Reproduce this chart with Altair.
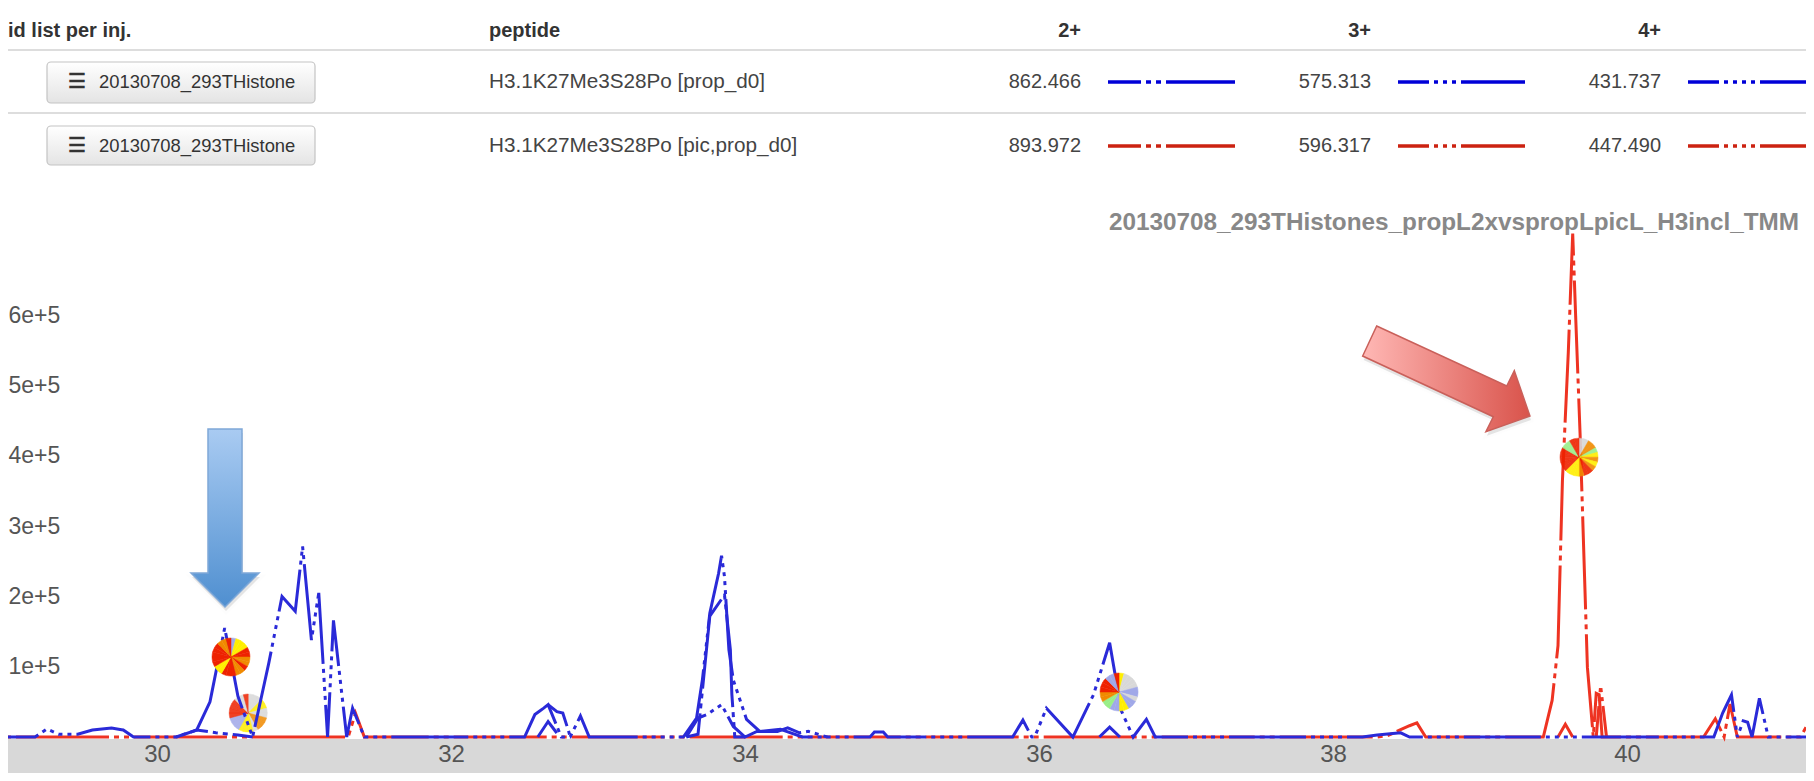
import altair as alt
import pandas as pd

# ---------- table content ----------
headers = ["id list per inj.", "peptide", "2+", "3+", "4+"]
run_names = ["20130708_293THistone", "20130708_293THistone"]
peptides = ["H3.1K27Me3S28Po [prop_d0]", "H3.1K27Me3S28Po [pic,prop_d0]"]
mz_light = ["862.466", "575.313", "431.737"]
mz_heavy = ["893.972", "596.317", "447.490"]
title_text = "20130708_293THistones_propL2xvspropLpicL_H3incl_TMM"

# ---------- traces: retention time / intensity, None breaks a trace ----------
blue_a_t = [28.986, 29.17, 29.25, 29.33, 29.46, 29.56, 29.69, 29.77, 29.84, 30.13, 30.27, 30.36, 30.46, 30.52, 30.55, 30.65,
            30.76, 30.85, 30.94, 30.99, 31.05, 31.1, 31.16, 31.2, 31.29, 31.33, 31.41, 32.5, 32.57, 32.63, 32.66, 32.75,
            32.81, 32.88, 32.94, 33.58, 33.67, 33.71, 33.74, 33.76, 33.82, 33.84, 33.86, 33.89, 33.92, 34.01, 34.1, 34.24,
            34.39, 34.85, 34.88, 34.94, 34.97, 35.82, 35.89, 35.95, 35.97, 36.05, 36.23, 36.37, 36.48, 36.56, 36.64, 36.73,
            36.79, 38.2, 38.3, 38.46, 38.52, 40.59, 40.65, 40.71, 40.75, 40.79, 40.82, 40.85, 40.9, 40.96, 41.217]
blue_a_i = [0, 0, 11400, 4000, 4000, 10000, 12800, 10000, 0, 0, 10000, 50000, 155000, 91000, 58000, 0,
            105000, 200000, 179000, 271000, 138000, 205000, 0, 166000, 0, 41000, 0, 0, 32000, 41000, 46000, 0,
            0, 30000, 0, 0, 27000, 82000, 138000, 176000, 233000, 258000, 228000, 124000, 81000, 25000, 8000, 11000,
            0, 0, 7000, 7000, 0, 0, 24000, 0, 0, 41000, 0, 60000, 134000, 37000, 0, 25000,
            0, 0, 3000, 6000, 0, 0, 34000, 60000, 0, 23000, 21000, 0, 55000, 0, 0]

blue_b_t = [30.13, 30.27, 30.4, 30.55, 30.65, 30.7, 32.59, 32.66, 32.74, 32.8, 33.6, 33.68, 33.76, 33.86, 33.9, 33.91, 33.93, 34.0,
            34.1, 36.41, 36.48, 36.55, 36.6]
blue_b_i = [0, 10000, 6000, 3000, 0, None, 0, 22000, 0, None, 0, 4000, 172000, 202000, 124000, 61000, 0, 0,
            None, 0, 14000, 0, None]

blue_c_t = [32.66, 32.72, 32.76, 32.8, 32.81, 32.9, 33.6, 33.68, 33.74, 33.84, 33.92, 34.0, 34.08, 34.22, 34.29, 34.37, 34.43, 34.56]
blue_c_i = [46000, 36000, 34000, 8000, 0, None, 0, 27000, 32000, 46000, 15000, 0, 8000, 8000, 13000, 6000, 8000, 0]

red_a_t = [28.986, 31.3, 31.35, 31.41, 38.3, 38.37, 38.52, 38.57, 38.63, 39.43, 39.49, 39.53, 39.56, 39.6, 39.63, 39.65, 39.68,
           39.73, 39.77, 39.79, 39.81, 39.83, 40.52, 40.6, 40.66, 40.7, 40.75, 41.18, 41.217]
red_a_i = [0, 0, 34000, 0, 0, 2000, 16000, 20000, 0, 0, 52000, 130000, 364000, 547000, 716000, 599000, 432000,
           99000, 0, 62000, 60000, 0, 0, 26000, 0, 47000, 0, 0, 14000]
red_b_t = [39.53, 39.58, 39.63]
red_b_i = [0, 18000, 0]
red_c_t = [39.79, 39.82, 39.86]
red_c_i = [0, 73000, 0]

# ---------- pies: one colour per equal slice, clockwise from the top ----------
R, O, Y, L, G, N = "#ee2200", "#f08a00", "#ffee00", "#a0a8e8", "#d8d8d8", "#99ee88"
pie_a_colors = [L, Y, Y, Y, R, R, O, O, R, O, O, R, R, R, Y, Y, R, R, R, R, R, O, O, R]
pie_b_colors = [G, G, G, Y, Y, G, G, O, O, O, G, Y, Y, Y, L, L, L, R, R, R, R, G, G, R]
pie_c_colors = [Y, G, G, G, G, L, L, G, L, L, Y, Y, L, L, N, N, O, O, R, R, R, L, L, R]
pie_d_colors = [G, G, O, O, N, Y, O, Y, O, R, R, O, Y, Y, Y, R, R, R, R, R, N, N, R, R]
pie_centers_t = [30.503, 30.62, 36.544, 39.673]
pie_centers_i = [113800, 34100, 64000, 398000]

y_ticks = [100000, 200000, 300000, 400000, 500000, 600000]
x_ticks = [30, 32, 34, 36, 38, 40]

# ---------- styles ----------
W, H = 1798, 765
Y_BOTTOM = -51209
x_scale = alt.Scale(domain=[28.986, 41.217], nice=False, zero=False)
y_scale = alt.Scale(domain=[Y_BOTTOM, 1036984], nice=False, zero=False)
FONT = "Liberation Sans"
BLUE, RED = "#2a2ad8", "#ee3322"
LEG_BLUE, LEG_RED = "#0000d8", "#cc2211"
DASH = {
    2: [33, 5, 5, 5, 5, 5, 60, 0],
    3: [31, 5, 4, 5, 4, 5, 4, 5, 55, 0],
    4: [31, 5, 4, 5, 4, 5, 4, 5, 4, 5, 46, 0],
}
one = alt.Data(values=[{"a": 1}])

x_axis = alt.Axis(
    values=x_ticks, format="d", orient="bottom", domain=False, ticks=False, grid=False, title=None,
    labelFont=FONT, labelFontSize=24, labelColor="#555555", labelPadding=-31, labelBaseline="top",
    labelAlign="center", zindex=1)
y_axis = alt.Axis(
    values=y_ticks, format=".0e", orient="left", domain=False, ticks=False, grid=False, title=None,
    labelAlign="left", labelPadding=0, labelFont=FONT, labelFontSize=23, labelColor="#555555", zindex=1,
    labelBaseline="middle")


def label(text, px, py, size=20, color="#333333", bold=False, align="left"):
    return alt.Chart(one).mark_text(
        text=text, font=FONT, fontSize=size, color=color, align=align, baseline="middle",
        fontWeight="bold" if bold else "normal",
    ).encode(x=alt.value(px - 8), y=alt.value(py - 8))


def hline(x0, x1, py, color, width, dash=None):
    kw = {"strokeDash": dash} if dash else {}
    return alt.Chart(one).mark_rule(color=color, strokeWidth=width, **kw).encode(
        x=alt.value(x0 - 8), x2=alt.value(x1 - 8), y=alt.value(py - 8))


def trace(ts, vs, color, dash, width=3, offset=0):
    df = pd.DataFrame({"t": ts, "i": vs})
    return alt.Chart(df).mark_line(
        color=color, strokeWidth=width, strokeDash=dash, strokeDashOffset=offset, clip=True,
        interpolate="linear",
    ).encode(
        x=alt.X("t:Q", scale=x_scale, axis=x_axis),
        y=alt.Y("i:Q", scale=y_scale, axis=y_axis),
    )


def pie(colors, t, i, opacity=1.0):
    df = pd.DataFrame({"c": colors, "s": list(range(len(colors))), "e": list(range(1, len(colors) + 1)),
                       "t": [t] * len(colors), "i": [i] * len(colors)})
    return alt.Chart(df).mark_arc(outerRadius=19, opacity=opacity, strokeWidth=0.5).encode(
        x=alt.X("t:Q", scale=x_scale, axis=x_axis),
        y=alt.Y("i:Q", scale=y_scale, axis=y_axis),
        theta=alt.Theta("s:Q", scale=alt.Scale(domain=[0, len(colors)])),
        theta2="e:Q",
        color=alt.Color("c:N", scale=None),
        stroke=alt.Stroke("c:N", scale=None),
    )


def arrow(path, px, py, span, fill, stroke):
    sz = span * span
    shadow_a = alt.Chart(one).mark_point(shape=path, size=sz, filled=True, fill="#000000", opacity=0.10, strokeWidth=5,
                                         stroke="#000000", strokeOpacity=0.05).encode(
        x=alt.value(px - 8 + 1), y=alt.value(py - 8 + 4))
    body = alt.Chart(one).mark_point(shape=path, size=sz, filled=True, fill=fill, stroke=stroke, strokeWidth=1.5, opacity=1).encode(
        x=alt.value(px - 8), y=alt.value(py - 8))
    return shadow_a + body


def grad(c0, c1, horizontal=False):
    return alt.LinearGradient(
        gradient="linear",
        stops=[alt.GradientStop(color=c0, offset=0), alt.GradientStop(color=c1, offset=1)],
        x1=0, y1=0, x2=1 if horizontal else 0, y2=0 if horizontal else 1,
    )


layers = []

# grey band
band = alt.Chart(alt.Data(values=[{"lo": Y_BOTTOM, "hi": -2845}])).mark_rect(color="#d8d8d8").encode(
    x=alt.value(0), x2=alt.value(W),
    y=alt.Y("lo:Q", scale=y_scale, axis=y_axis),
    y2="hi:Q",
)
layers.append(band)

# table
layers += [hline(8, 1806, 50, "#dddddd", 2), hline(8, 1806, 113, "#dddddd", 2)]
layers.append(label(headers[0], 8, 31, 20, "#333333", True))
layers.append(label(headers[1], 489, 31, 20, "#333333", True))
for h, xr in zip(headers[2:], [1081, 1371, 1661]):
    layers.append(label(h, xr, 31, 20, "#333333", True, "right"))

for row, (yc, y0, y1) in enumerate([(82, 62, 103), (146, 126, 165)]):
    layers.append(alt.Chart(one).mark_rect(
        cornerRadius=4, fill=grad("#ffffff", "#e4e4e4"), stroke="#c4c4c4", strokeWidth=1.2).encode(
        x=alt.value(47 - 8), x2=alt.value(315 - 8), y=alt.value(y0 - 8), y2=alt.value(y1 - 8)))
    layers.append(label("\u2630", 68, yc, 20, "#333333", True))
    layers.append(label(run_names[row], 99, yc, 18.4, "#333333"))
    layers.append(label(peptides[row], 489, yc, 20.7, "#444444"))
    mzs = mz_light if row == 0 else mz_heavy
    col = LEG_BLUE if row == 0 else LEG_RED
    for mz, xr, (a, b), ch in zip(mzs, [1081, 1371, 1661], [(1108, 1235), (1398, 1525), (1688, 1806)], [2, 3, 4]):
        layers.append(label(mz, xr, yc, 20, "#444444", False, "right"))
        layers.append(hline(a, b, yc, col, 3.5, DASH[ch]))

layers.append(label(title_text, 1799, 223, 24.3, "#888888", True, "right"))

# traces and pies
layers.append(pie(pie_b_colors, pie_centers_t[1], pie_centers_i[1], 0.85))
layers.append(trace(red_a_t, red_a_i, RED, DASH[2], 3, 50))
layers.append(trace(red_b_t, red_b_i, RED, DASH[3]))
layers.append(trace(red_c_t, red_c_i, RED, DASH[4]))
layers.append(trace(blue_a_t, blue_a_i, BLUE, DASH[4]))
layers.append(trace(blue_b_t, blue_b_i, BLUE, DASH[2]))
layers.append(trace(blue_c_t, blue_c_i, BLUE, DASH[3]))
layers.append(pie(pie_a_colors, pie_centers_t[0], pie_centers_i[0]))
layers.append(pie(pie_c_colors, pie_centers_t[2], pie_centers_i[2]))
layers.append(pie(pie_d_colors, pie_centers_t[3], pie_centers_i[3], 0.9))

# annotation arrows
blue_arrow = "M-0.191,-1 L0.191,-1 L0.191,0.618 L0.382,0.618 L0,1 L-0.382,0.618 L-0.191,0.618 Z"
red_arrow = "M-0.819,-0.621 L0.711,0.085 L0.8,-0.095 L0.984,0.438 L0.466,0.622 L0.553,0.446 L-0.984,-0.268 Z"
layers.append(arrow(blue_arrow, 225, 518, 178, grad("#a9cbf2", "#4f8fd0"), "#7fa8d8"))
layers.append(arrow(red_arrow, 1446.3, 378.8, 170, grad("#ffb8b5", "#d9534b", True), "#c9605a"))

chart = alt.layer(*layers).properties(
    width=W, height=H, padding=0, autosize=alt.AutoSizeParams(type="none"), background="white",
).configure_view(stroke=None).resolve_scale(color="independent", theta="independent")

chart.save("out.html", embed_options={"renderer": "svg", "actions": False})
